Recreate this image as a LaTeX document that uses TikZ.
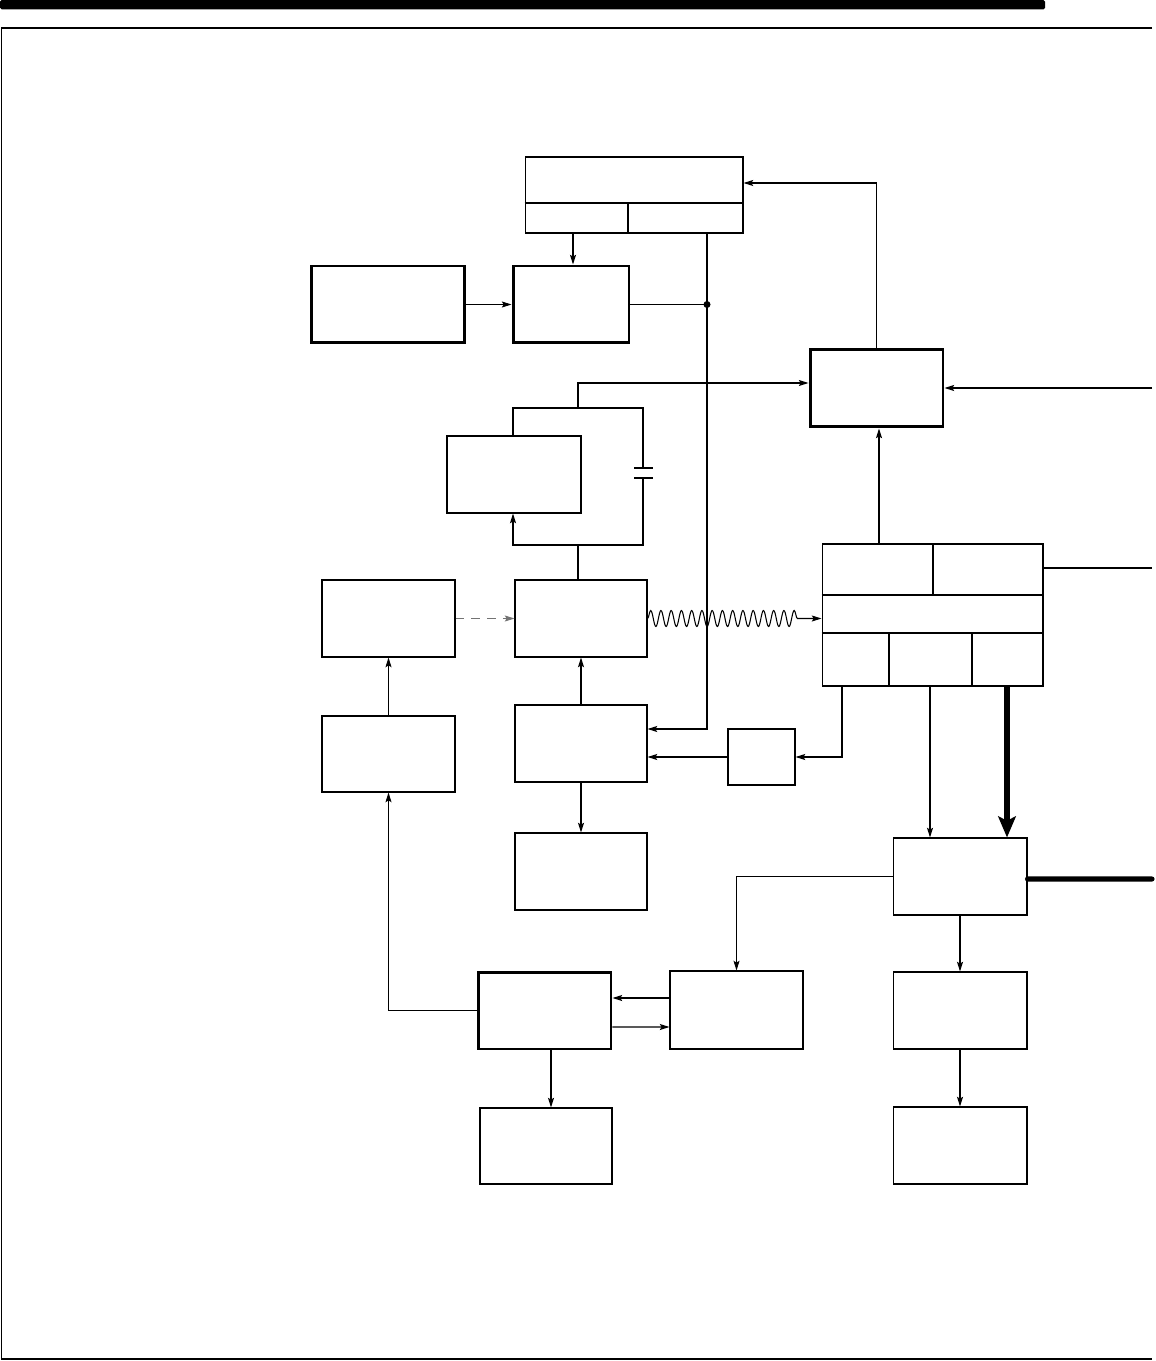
\documentclass[tikz,border=0pt]{standalone}
\usepackage{tikz}
\usetikzlibrary{
    arrows.meta,
    positioning,
    calc,
    decorations.pathmorphing
}
\tikzstyle{block} = [
    rectangle,
    draw=black,
    line width=0.6pt,
    inner sep=0pt,
    minimum width=2.66cm,
    minimum height=1.54cm
]
\tikzstyle{heavy} = [block, line width=1.7pt]
\tikzstyle{line} = [line width=0.6pt]
\tikzstyle{arrow} = [
    -{Stealth[length=5.5pt,width=3.4pt,inset=1pt]},
    line width=0.6pt
]
\tikzstyle{bus} = [line width=2.9pt]

\begin{document}
\begin{tikzpicture}[x=0.02cm, y=-0.02cm]
        \useasboundingbox (0,0) rectangle (1155,1361);

        % Page rules
        \fill[rounded corners=1pt] (0,0) rectangle (1045,9.5);
        \draw[line width=0.8pt] (1152,28) -- (1.5,28) -- (1.5,1359) -- (1152,1359);
        \coordinate (rim) at (1152,0);

        % Upper row
        \node[block, minimum width=4.36cm, minimum height=1.52cm] (top) at (634,195) {};
        \draw[line] (top.west |- 0,203) -- (top.east |- 0,203);
        \draw[line] (628,203) -- (top.south -| 628,0);
        \node[heavy, minimum width=3.08cm] (src) at (388,304.5) {};
        \node[heavy, minimum width=2.32cm] (mix) at (571,304.5) {};
        \node[heavy, minimum height=1.56cm] (ctrl) at (876.5,388) {};
        \node[block, minimum width=2.68cm] (osc) at (514,474.5) {};

        % Middle row
        \node[block] (ref) at (388.5,618.5) {};
        \node[block, minimum width=2.64cm] (amp) at (581,618.5) {};
        \node[block, minimum width=4.42cm, minimum height=2.84cm] (proc) at (932.5,615) {};
        \draw[line] (proc.west |- 0,595) -- (proc.east |- 0,595);
        \draw[line] (proc.west |- 0,633) -- (proc.east |- 0,633);
        \draw[line] (proc.north -| 933,0) -- (933,595);
        \draw[line] (889,633) -- (proc.south -| 889,0);
        \draw[line] (972,633) -- (proc.south -| 972,0);
        \node[block, minimum height=1.52cm] (gen) at (388.5,754) {};
        \node[block, minimum width=2.64cm] (drv) at (581,743.5) {};
        \node[block, minimum width=1.34cm, minimum height=1.12cm] (det) at (761.5,757) {};
        \node[block, minimum width=2.64cm] (load) at (581,871.5) {};

        % Lower row
        \node[block, minimum width=2.68cm] (sw) at (960,876.5) {};
        \node[heavy] (cpu) at (544.5,1010.5) {};
        \node[block, minimum height=1.56cm] (buf) at (736.5,1010) {};
        \node[block, minimum width=2.68cm] (out1) at (960,1010.5) {};
        \node[block, minimum width=2.64cm, minimum height=1.52cm] (disp) at (546,1146) {};
        \node[block, minimum width=2.68cm] (out2) at (960,1145.5) {};

        % Arrows, upper part
        \draw[arrow] (top.south -| 573,0) -- (mix.north -| 573,0);
        \draw[arrow] (src.east) -- (mix.west);
        \coordinate (jn) at (707,304.5);
        \coordinate (bend) at (707,729);
        \draw[line] (mix.east) -- (jn);
        \fill (jn) circle (0.07cm);
        \draw[arrow] (top.south -| jn) -- (bend) -- (bend -| drv.east);
        \draw[arrow] (ctrl.north) |- ($(top.east)+(0,-12)$);
        \draw[arrow] (rim |- ctrl.east) -- (ctrl.east);

        % Oscillator loop with capacitor
        \coordinate (tl) at (513,408);
        \coordinate (tr) at (643,408);
        \coordinate (bl) at (513,545);
        \coordinate (br) at (643,545);
        \draw[arrow] (578,408) |- ($(ctrl.west)+(0,-5)$);
        \draw[line] (osc.north -| tl) -- (tl) -- (tr) -- (643,468);
        \draw[line width=0.8pt] (634,468) -- (653,468);
        \draw[line width=0.8pt] (634,478) -- (653,478);
        \draw[arrow] (643,478) -- (br) -- (bl) -- (osc.south -| bl);
        \draw[line] (amp.north -| 578,0) -- (578,545);

        % Arrows, middle part
        \draw[arrow, dashed, dash pattern=on 5pt off 4pt, draw=black!55] (ref.east) -- (amp.west);
        \draw[arrow, decorate, decoration={snake, segment length=0.205cm, amplitude=0.16cm, post length=0.4cm}]
            (amp.east) -- (amp.east -| proc.west);
        \draw[arrow] (gen.north) -- (ref.south);
        \draw[arrow] (drv.north) -- (amp.south);
        \draw[arrow] (det.west) -- (det.west -| drv.east);
        \draw[arrow] (proc.south -| 842,0) |- (det.east);
        \draw[arrow] (proc.north -| 879,0) -- (ctrl.south -| 879,0);
        \draw[line] (proc.east |- 0,568) -- (rim |- 0,568);
        \draw[arrow] (drv.south) -- (load.north);

        % Arrows, lower part
        \draw[arrow] (proc.south -| 930,0) -- (sw.north -| 930,0);
        \draw[bus, -{Stealth[length=12pt,width=10pt,inset=2.5pt]}] (proc.south -| 1007,0) -- (sw.north -| 1007,0);
        \draw[bus, line cap=round] ($(sw.east)+(0,2.5)$) -- (rim |- 0,879);
        \draw[arrow] (sw.west) -| (buf.north);
        \draw[arrow] (sw.south) -- (out1.north);
        \draw[arrow] (out1.south) -- (out2.north);
        \draw[arrow] ($(buf.west)+(0,-12)$) -- ($(cpu.east)+(0,-12.5)$);
        \draw[arrow] ($(cpu.east)+(0,16.5)$) -- ($(buf.west)+(0,17)$);
        \draw[arrow] (cpu.west) -| (gen.south);
        \draw[arrow] (cpu.south -| 551,0) -- (disp.north -| 551,0);
    \end{tikzpicture}
\end{document}
